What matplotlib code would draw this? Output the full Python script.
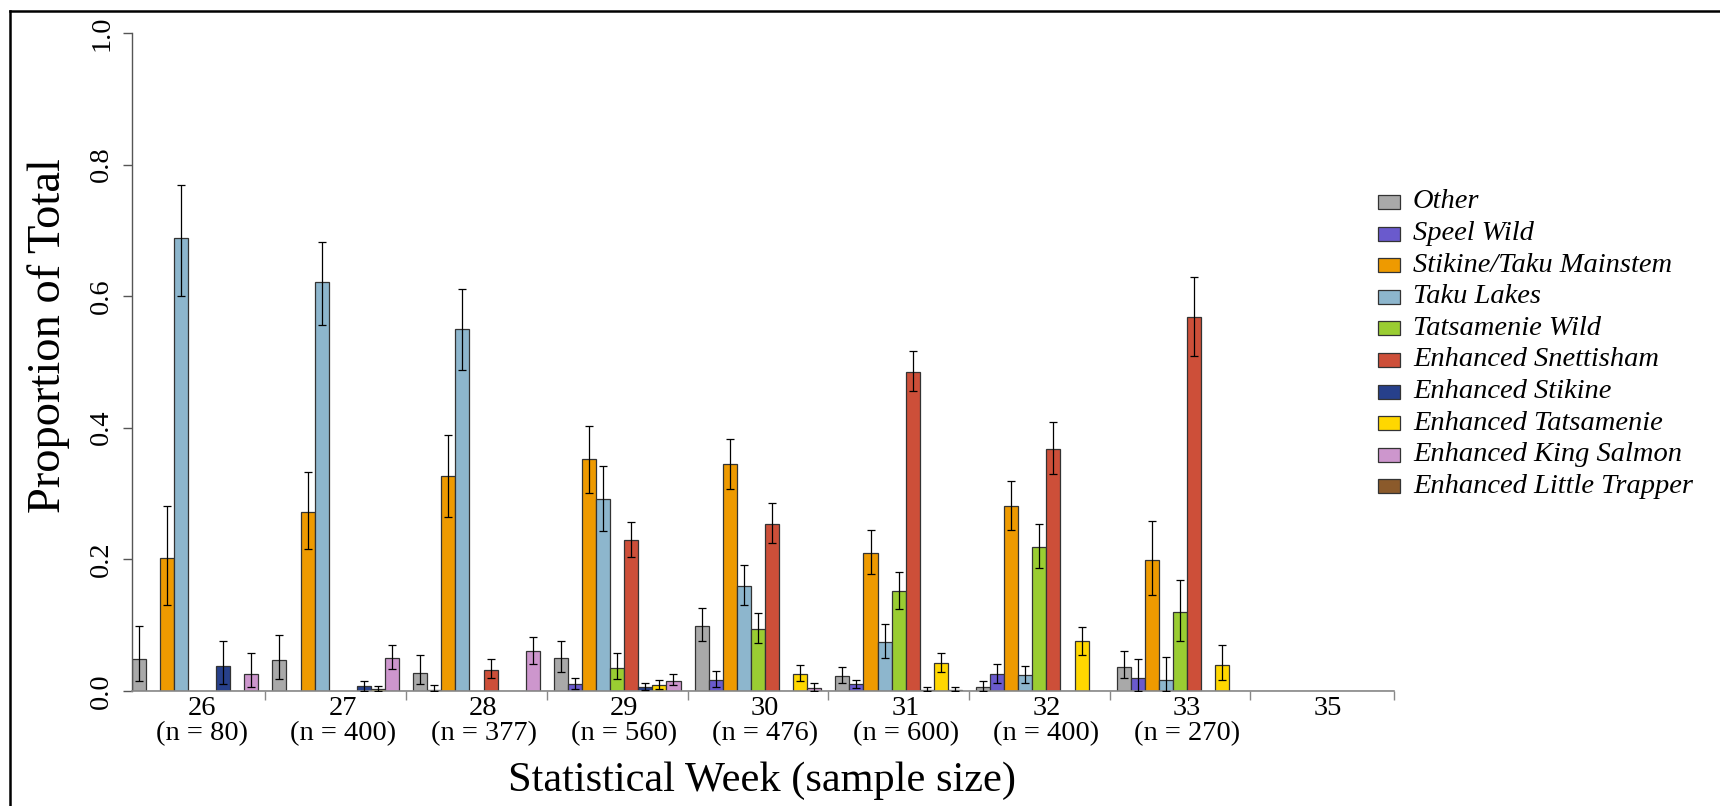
"""Stock composition by statistical week, grouped bars with 90% CIs."""
import matplotlib
matplotlib.use("Agg")
import matplotlib.pyplot as plt
import numpy as np
from matplotlib.lines import Line2D
from matplotlib.patches import Rectangle

plt.rcParams["font.family"] = ["Liberation Serif", "DejaVu Serif"]

# ── Data ───────────────────────────────────────────────────────────
stocks = ["Other", "Speel Wild", "Stikine/Taku Mainstem", "Taku Lakes",
          "Tatsamenie Wild", "Enhanced Snettisham", "Enhanced Stikine",
          "Enhanced Tatsamenie", "Enhanced King Salmon", "Enhanced Little Trapper"]
colors = ["#A9A9A9", "#6A5ACD", "#EE9A00", "#8DB6CD", "#9ACD32",
          "#CD4F39", "#27408B", "#FFD700", "#CD96CD", "#8B5A2B"]
weeks = ["26", "27", "28", "29", "30", "31", "32", "33", "35"]
sample_sizes = [80, 400, 377, 560, 476, 600, 400, 270, None]

nan = np.nan
# rows = weeks, columns = stocks
proportion = [
    [0.048, 0.000, 0.202, 0.689, 0.000, 0.000, 0.037, 0.000, 0.025, 0.000],
    [0.046, 0.000, 0.272, 0.621, 0.000, 0.000, 0.007, 0.003, 0.049, 0.000],
    [0.027, 0.001, 0.326, 0.550, 0.000, 0.032, 0.000, 0.000, 0.060, 0.000],
    [0.049, 0.010, 0.352, 0.292, 0.035, 0.229, 0.005, 0.009, 0.014, 0.000],
    [0.099, 0.016, 0.344, 0.159, 0.094, 0.254, 0.000, 0.026, 0.004, 0.000],
    [0.022, 0.010, 0.210, 0.074, 0.151, 0.485, 0.001, 0.042, 0.001, 0.000],
    [0.005, 0.026, 0.281, 0.024, 0.218, 0.368, 0.000, 0.075, 0.000, 0.000],
    [0.036, 0.020, 0.199, 0.016, 0.119, 0.568, 0.000, 0.039, 0.000, 0.000],
    [0.000, 0.000, 0.000, 0.000, 0.000, 0.000, 0.000, 0.000, 0.000, 0.000],
]
ci_lower = [
    [0.014, nan, 0.130, 0.600, nan, nan, 0.010, nan, 0.005, nan],
    [0.018, nan, 0.216, 0.556, nan, nan, 0.000, 0.000, 0.033, nan],
    [0.010, 0.000, 0.264, 0.487, nan, 0.020, nan, nan, 0.041, nan],
    [0.029, 0.003, 0.301, 0.243, 0.018, 0.203, 0.001, 0.003, 0.008, nan],
    [0.075, 0.006, 0.306, 0.130, 0.072, 0.224, nan, 0.015, 0.000, nan],
    [0.011, 0.004, 0.177, 0.050, 0.124, 0.455, 0.000, 0.028, 0.000, nan],
    [0.000, 0.012, 0.244, 0.012, 0.186, 0.330, nan, 0.054, nan, nan],
    [0.019, 0.000, 0.145, 0.000, 0.076, 0.509, nan, 0.016, nan, nan],
    [nan] * 10,
]
ci_upper = [
    [0.099, nan, 0.281, 0.769, nan, nan, 0.076, nan, 0.057, nan],
    [0.084, nan, 0.333, 0.682, nan, nan, 0.015, 0.0065, 0.069, nan],
    [0.055, 0.008, 0.389, 0.611, nan, 0.048, nan, nan, 0.082, nan],
    [0.075, 0.019, 0.403, 0.341, 0.058, 0.256, 0.011, 0.017, 0.025, nan],
    [0.125, 0.030, 0.383, 0.191, 0.118, 0.286, nan, 0.039, 0.011, nan],
    [0.036, 0.016, 0.244, 0.101, 0.180, 0.517, 0.005, 0.057, 0.005, nan],
    [0.015, 0.041, 0.319, 0.038, 0.254, 0.408, nan, 0.097, nan, nan],
    [0.061, 0.048, 0.258, 0.051, 0.168, 0.629, nan, 0.069, nan, nan],
    [nan] * 10,
]

prop = np.array(proportion)
lo = np.array(ci_lower)
hi = np.array(ci_upper)
n_weeks, n_stocks = prop.shape

# ── Figure ─────────────────────────────────────────────────────────
W, H = 1720, 806
fig = plt.figure(figsize=(W / 100, H / 100), dpi=100)
ax_left, ax_right, ax_top, ax_bot = 131.7, 1394, 33, 690.7
ax = fig.add_axes([ax_left / W, 1 - ax_bot / H,
                   (ax_right - ax_left) / W, (ax_bot - ax_top) / H])

for j in range(n_stocks):
    x = np.arange(n_weeks) * n_stocks + j + 0.5
    ax.bar(x, prop[:, j], width=1.0, color=colors[j],
           edgecolor="#333333", linewidth=0.9, zorder=2)
    ok = ~np.isnan(lo[:, j])
    if ok.any():
        ax.errorbar(x[ok], prop[ok, j],
                    yerr=[prop[ok, j] - lo[ok, j], hi[ok, j] - prop[ok, j]],
                    fmt="none", ecolor="black", elinewidth=0.9,
                    capsize=2.6, capthick=0.9, zorder=3)

xmax = n_weeks * n_stocks - 0.3
ax.set_xlim(0, xmax)
ax.set_ylim(0, 1)

for side in ["top", "right"]:
    ax.spines[side].set_visible(False)
ax.spines["left"].set_color("#555555")
ax.spines["bottom"].set_color("#888888")
ax.spines["left"].set_linewidth(1.0)
ax.spines["bottom"].set_linewidth(1.2)

ax.set_yticks(np.arange(0, 1.01, 0.2))
ax.set_yticklabels([f"{v:.1f}" for v in np.arange(0, 1.01, 0.2)],
                   rotation=90, va="center", fontsize=20.5)
ax.tick_params(axis="y", length=6.5, width=1.0, color="#555555", pad=6)

xt = list(np.arange(n_weeks - 1) * n_stocks + 9.5) + [xmax]
ax.set_xticks(xt)
ax.set_xticklabels([])
ax.tick_params(axis="x", length=6.5, width=1.0, color="#888888")

trans = ax.get_xaxis_transform()
for k, wk in enumerate(weeks):
    xc = k * n_stocks + n_stocks / 2
    ax.text(xc, -0.027, wk, transform=trans, ha="center", va="center",
            fontsize=20.5)
    if sample_sizes[k] is not None:
        ax.text(xc, -0.066, f"(n = {sample_sizes[k]})", transform=trans,
                ha="center", va="center", fontsize=20.5)

fig.text(762 / W, 1 - 781 / H, "Statistical Week (sample size)",
         ha="center", va="center", fontsize=30.5)
fig.text(49 / W, 1 - 336 / H, "Proportion of Total", rotation=90,
         ha="center", va="center", fontsize=33.5)

# ── Legend (drawn by hand) ─────────────────────────────────────────
for i, (name, c) in enumerate(zip(stocks, colors)):
    yc = 202 + 31.6 * i
    fig.patches.append(Rectangle((1378 / W, 1 - (yc + 7) / H), 22 / W, 14 / H,
                                 transform=fig.transFigure, facecolor=c,
                                 edgecolor="#333333", linewidth=0.9))
    fig.text(1413 / W, 1 - yc / H, name, ha="left", va="center",
             fontsize=20.5, style="italic")

# Outer frame (extends past the right and bottom edges)
fig.add_artist(Line2D([10 / W, 10 / W], [0, 1 - 11 / H], color="black",
                      linewidth=1.8, transform=fig.transFigure))
fig.add_artist(Line2D([10 / W, 1], [1 - 11 / H, 1 - 11 / H], color="black",
                      linewidth=1.8, transform=fig.transFigure))

fig.savefig("out.png", dpi=100)
